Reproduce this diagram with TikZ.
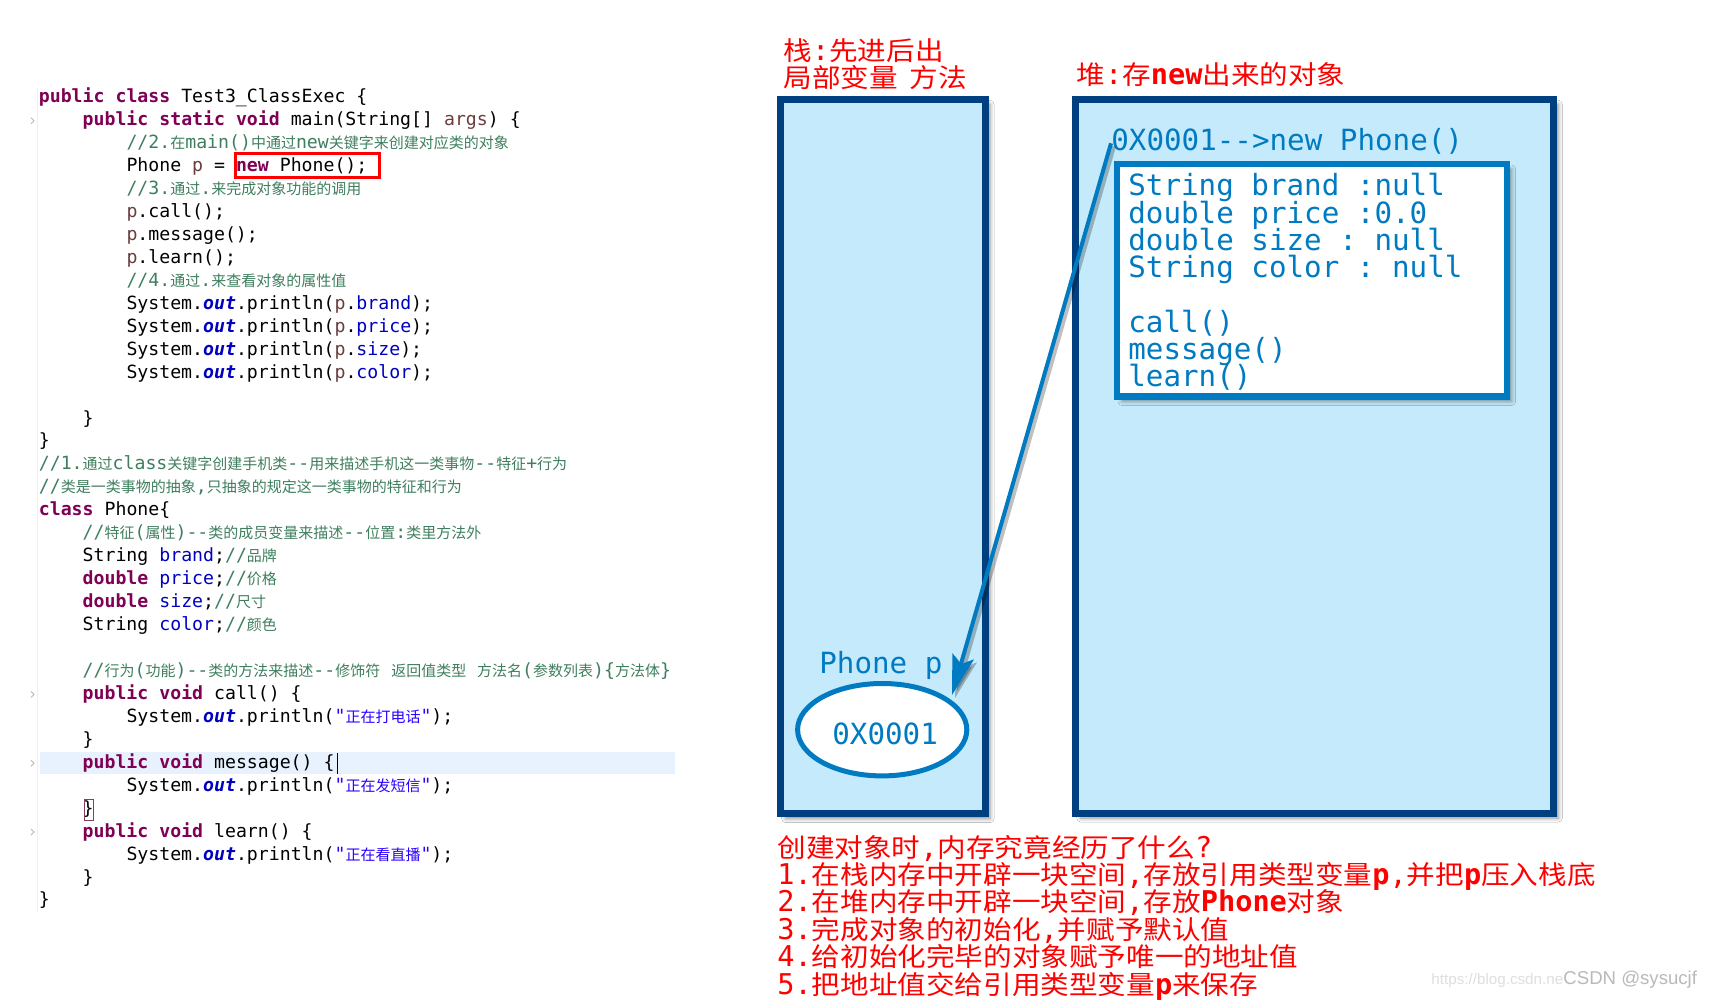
\documentclass[tikz,border=0pt]{standalone}
\usepackage{fontspec}
\usetikzlibrary{arrows.meta,shapes.geometric,shadows.blur}
\setmonofont{DejaVu Sans Mono}
\newfontfamily\cjk{Noto Sans CJK SC}
\newfontfamily\cjkw[FakeStretch=1.1]{Noto Sans CJK SC}
\newfontfamily\wmfont{Liberation Sans}
\definecolor{kwc}{RGB}{127,0,85}
\definecolor{cmc}{RGB}{63,127,95}
\definecolor{fdc}{RGB}{0,0,192}
\definecolor{lvc}{RGB}{106,62,62}
\definecolor{slc}{RGB}{42,0,255}
\definecolor{stackborder}{RGB}{0,64,128}
\definecolor{stackfill}{RGB}{197,234,251}
\definecolor{objblue}{RGB}{0,122,193}
\definecolor{hlband}{RGB}{232,242,254}
\definecolor{brbox}{RGB}{128,64,96}
\newcommand\Kw[1]{\textcolor{kwc}{\bfseries #1}}
\newcommand\Cm[1]{\textcolor{cmc}{#1}}
\newcommand\Zh[1]{{\cjk\fontsize{7.5pt}{8pt}\selectfont #1}}
\newcommand\Fd[1]{\textcolor{fdc}{#1}}
\newcommand\Lv[1]{\textcolor{lvc}{#1}}
\newcommand\Ot{\textcolor{fdc}{\bfseries\itshape out}}
\newcommand\Sl[1]{\textcolor{slc}{#1}}
\newcommand\Ra[1]{{\ttfamily\fontsize{14.3pt}{14pt}\selectfont #1}}
\newcommand\Rb[1]{{\ttfamily\bfseries\fontsize{14.3pt}{14pt}\selectfont #1}}
\newcommand\cl[3]{\node[code] (c#1) at ({38.5+43.8*#2},{102.7+22.95*#1}) {#3};}
\begin{document}
\begin{tikzpicture}[x=0.5pt,y=-0.5pt,
  code/.style={anchor=base west,inner sep=0pt,font=\ttfamily\fontsize{9.094pt}{11pt}\selectfont},
  bluet/.style={anchor=base west,inner sep=0pt,text=objblue,font=\ttfamily\fontsize{14.6pt}{14pt}\selectfont},
  redt/.style={anchor=base west,inner sep=0pt,text=red,font=\cjkw\fontsize{13pt}{14pt}\selectfont},
  membox/.style={draw=stackborder,fill=stackfill,line width=3.5pt,inner sep=0pt,
    blur shadow={shadow xshift=2.5pt,shadow yshift=-2.5pt,shadow blur radius=2pt,shadow opacity=45}},
  objbox/.style={draw=objblue,fill=white,line width=3.15pt,inner sep=0pt,
    blur shadow={shadow xshift=2.5pt,shadow yshift=-2.5pt,shadow blur radius=2pt,shadow opacity=40}},
  arr/.style={draw=objblue,line width=2pt,-{Stealth[length=20pt,width=11pt,inset=4pt]}},
  arrsh/.style={draw=black,opacity=0.25,line width=2pt,-{Stealth[length=20pt,width=11pt,inset=4pt]}}
]
\useasboundingbox (0,0) rectangle (1712,1000);
\fill[white] (0,0) rectangle (1712,1000);

% ---------- code editor ----------
\draw[gray!12,line width=0.5pt] (37.3,88) -- (37.3,912);
\fill[hlband] (40,752.3) rectangle (675,774.3);
\foreach \k in {1,26,29,32}
  \draw[gray!55,line width=0.45pt] (31,{102.7+22.95*\k-8}) -- ++(3,3) -- ++(-3,3);

\cl{0}{0}{\Kw{public} \Kw{class} Test3\_ClassExec \{}
\cl{1}{1}{\Kw{public} \Kw{static} \Kw{void} main(String[] \Lv{args}) \{}
\cl{2}{2}{\Cm{//2.\Zh{在}main()\Zh{中通过}new\Zh{关键字来创建对应类的对象}}}
\cl{3}{2}{Phone \Lv{p} = \Kw{new} Phone();}
\cl{4}{2}{\Cm{//3.\Zh{通过}.\Zh{来完成对象功能的调用}}}
\cl{5}{2}{\Lv{p}.call();}
\cl{6}{2}{\Lv{p}.message();}
\cl{7}{2}{\Lv{p}.learn();}
\cl{8}{2}{\Cm{//4.\Zh{通过}.\Zh{来查看对象的属性值}}}
\cl{9}{2}{System.\Ot.println(\Lv{p}.\Fd{brand});}
\cl{10}{2}{System.\Ot.println(\Lv{p}.\Fd{price});}
\cl{11}{2}{System.\Ot.println(\Lv{p}.\Fd{size});}
\cl{12}{2}{System.\Ot.println(\Lv{p}.\Fd{color});}
\cl{14}{1}{\}}
\cl{15}{0}{\}}
\cl{16}{0}{\Cm{//1.\Zh{通过}class\Zh{关键字创建手机类}-{}-\Zh{用来描述手机这一类事物}-{}-\Zh{特征}+\Zh{行为}}}
\cl{17}{0}{\Cm{//\Zh{类是一类事物的抽象},\Zh{只抽象的规定这一类事物的特征和行为}}}
\cl{18}{0}{\Kw{class} Phone\{}
\cl{19}{1}{\Cm{//\Zh{特征}(\Zh{属性})-{}-\Zh{类的成员变量来描述}-{}-\Zh{位置}:\Zh{类里方法外}}}
\cl{20}{1}{String \Fd{brand};\Cm{//\Zh{品牌}}}
\cl{21}{1}{\Kw{double} \Fd{price};\Cm{//\Zh{价格}}}
\cl{22}{1}{\Kw{double} \Fd{size};\Cm{//\Zh{尺寸}}}
\cl{23}{1}{String \Fd{color};\Cm{//\Zh{颜色}}}
\cl{25}{1}{\Cm{//\Zh{行为}(\Zh{功能})-{}-\Zh{类的方法来描述}-{}-\Zh{修饰符} \Zh{返回值类型} \Zh{方法名}(\Zh{参数列表})\{\Zh{方法体}\}}}
\cl{26}{1}{\Kw{public} \Kw{void} call() \{}
\cl{27}{2}{System.\Ot.println(\Sl{"\Zh{正在打电话}"});}
\cl{28}{1}{\}}
\cl{29}{1}{\Kw{public} \Kw{void} message() \{}
\cl{30}{2}{System.\Ot.println(\Sl{"\Zh{正在发短信}"});}
\cl{31}{1}{\}}
\cl{32}{1}{\Kw{public} \Kw{void} learn() \{}
\cl{33}{2}{System.\Ot.println(\Sl{"\Zh{正在看直播}"});}
\cl{34}{1}{\}}
\cl{35}{0}{\}}

\draw[red,line width=1.5pt] (235,154) rectangle (379,177.5);
\draw[black,line width=0.6pt] (337.7,753) -- (337.7,774);
\draw[brbox,line width=0.5pt] (84.8,799.5) rectangle (93.8,820.5);

% ---------- memory diagram ----------
\node[redt] (t1) at (783,60.2) {栈\Ra{:}先进后出};
\node[redt] (t2) at (783,88) {局部变量\hspace{6pt}方法};
\node[redt] (t3) at (1076,84.5) {堆\Ra{:}存\Rb{new}出来的对象};

\node[membox,minimum width=102.15pt,minimum height=357.2pt] (stack) at (882.85,456.5) {};
\node[membox,minimum width=238.8pt,minimum height=356.9pt] (heap) at (1314.5,456.1) {};
\node[objbox,minimum width=194.85pt,minimum height=116.25pt] (obj) at (1311.85,280.25) {};

\node[bluet] (objaddr) at (1111,150.5) {0X0001-{}->new Phone()};
\node[bluet] (m1) at (1128,195.8) {String brand :null};
\node[bluet] (m2) at (1128,223.1) {double price :0.0};
\node[bluet] (m3) at (1128,250.4) {double size : null};
\node[bluet] (m4) at (1128,277.7) {String color : null};
\node[bluet] (m5) at (1128,332.3) {call()};
\node[bluet] (m6) at (1128,359.6) {message()};
\node[bluet] (m7) at (1128,386.4) {learn()};

\node[bluet] (pvar) at (819,673) {Phone p};
\node[ellipse,draw=objblue,fill=white,line width=2.5pt,inner sep=0pt,
  minimum width=84.6pt,minimum height=46.2pt,text=objblue,
  font=\ttfamily\fontsize{14.6pt}{14pt}\selectfont] (addr) at (882.2,729.7) {};
\node[bluet] (addrtxt) at (832,744) {0X0001};

\coordinate (aS) at (1111,143.3);
\coordinate (aE) at (952,695);
\coordinate (aSs) at (1114,146.3);
\coordinate (aEs) at (955,698);
\draw[arrsh] (aSs) -- (aEs);
\draw[arr] (aS) -- (aE);

% ---------- explanation ----------
\node[redt] (q0) at (777,857) {创建对象时\Ra{,}内存究竟经历了什么\Ra{?}};
\node[redt] (q1) at (777,884.4) {\Ra{1.}在栈内存中开辟一块空间\Ra{,}存放引用类型变量\Rb{p}\Ra{,}并把\Rb{p}压入栈底};
\node[redt] (q2) at (777,911.8) {\Ra{2.}在堆内存中开辟一块空间\Ra{,}存放\Rb{Phone}对象};
\node[redt] (q3) at (777,939.2) {\Ra{3.}完成对象的初始化\Ra{,}并赋予默认值};
\node[redt] (q4) at (777,966.6) {\Ra{4.}给初始化完毕的对象赋予唯一的地址值};
\node[redt] (q5) at (777,994) {\Ra{5.}把地址值交给引用类型变量\Rb{p}来保存};

% ---------- watermark ----------
\node[anchor=base west,inner sep=0pt,text=gray!25,font=\wmfont\fontsize{7.6pt}{8pt}\selectfont] (url) at (1431,984) {https://blog.csdn.ne};
\node[anchor=base west,inner sep=0pt,text=gray!55,font=\wmfont\fontsize{9.3pt}{10pt}\selectfont] (wm) at (1563,984) {CSDN @sysucjf};
\end{tikzpicture}
\end{document}
